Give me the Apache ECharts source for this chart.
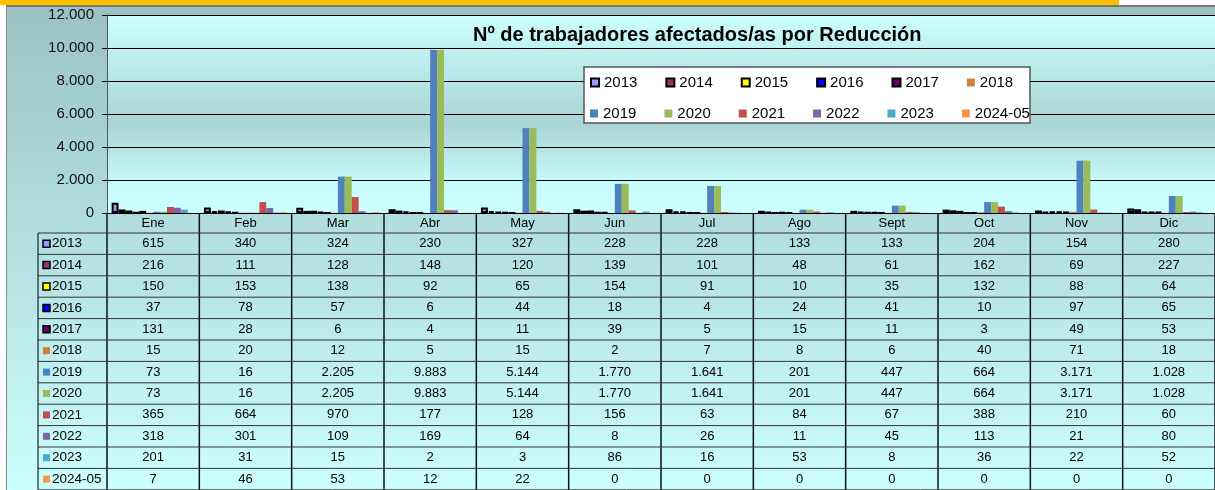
<!DOCTYPE html>
<html>
<head>
<meta charset="utf-8">
<script src="https://cdn.jsdelivr.net/npm/echarts@6/dist/echarts.min.js"></script>
<style>
  html, body { margin: 0; padding: 0; background: #fff; }
  #wrap { position: relative; width: 1215px; height: 490px; overflow: hidden; }
  #band { position: absolute; left: 0; top: 0; width: 1119px; height: 5px; background: #ffc000; }
  #panel { position: absolute; left: 6px; top: 5px; right: 0; bottom: 0;
           border-left: 1px solid #888; border-top: 2px solid #777;
           background: linear-gradient(#9bc2c2, #ccffff); }
  #chart { position: absolute; left: 0; top: 0; width: 1215px; height: 490px; }
</style>
</head>
<body>
<div id="wrap">
  <div id="band"></div>
  <div id="panel"></div>
  <div id="chart"></div>
</div>
<script>
const months = ["Ene", "Feb", "Mar", "Abr", "May", "Jun", "Jul", "Ago", "Sept", "Oct", "Nov", "Dic"];
const years = ["2013", "2014", "2015", "2016", "2017", "2018", "2019", "2020", "2021", "2022", "2023", "2024-05"];
const yTicks = [0, 2000, 4000, 6000, 8000, 10000, 12000];

const v2013 = [615, 340, 324, 230, 327, 228, 228, 133, 133, 204, 154, 280];
const v2014 = [216, 111, 128, 148, 120, 139, 101, 48, 61, 162, 69, 227];
const v2015 = [150, 153, 138, 92, 65, 154, 91, 10, 35, 132, 88, 64];
const v2016 = [37, 78, 57, 6, 44, 18, 4, 24, 41, 10, 97, 65];
const v2017 = [131, 28, 6, 4, 11, 39, 5, 15, 11, 3, 49, 53];
const v2018 = [15, 20, 12, 5, 15, 2, 7, 8, 6, 40, 71, 18];
const v2019 = [73, 16, 2205, 9883, 5144, 1770, 1641, 201, 447, 664, 3171, 1028];
const v2020 = [73, 16, 2205, 9883, 5144, 1770, 1641, 201, 447, 664, 3171, 1028];
const v2021 = [365, 664, 970, 177, 128, 156, 63, 84, 67, 388, 210, 60];
const v2022 = [318, 301, 109, 169, 64, 8, 26, 11, 45, 113, 21, 80];
const v2023 = [201, 31, 15, 2, 3, 86, 16, 53, 8, 36, 22, 52];
const v2024 = [7, 46, 53, 12, 22, 0, 0, 0, 0, 0, 0, 0];
const seriesValues = [v2013, v2014, v2015, v2016, v2017, v2018, v2019, v2020, v2021, v2022, v2023, v2024];

const colors = ["#9999ff", "#993366", "#ffff00", "#0000ff", "#660066", "#d4803c",
                "#4f81bd", "#9bbb59", "#c0504d", "#8064a2", "#4bacc6", "#f79646"];
const FONT = "Liberation Sans, Arial, sans-serif";

// formato español: 2.205
function fmt(v) {
  return String(v).replace(/\B(?=(\d{3})+(?!\d))/g, ".");
}

const myChart = echarts.init(document.getElementById("chart"));

const series = years.map((y, i) => ({
  name: y,
  type: "bar",
  barGap: "0%",
  barCategoryGap: "10%",
  data: seriesValues[i],
  itemStyle: i < 5
    ? { color: colors[i], borderColor: "#000", borderWidth: 2 }
    : { color: colors[i] },
  emphasis: { disabled: true },
}));

const legendBase = {
  orient: "horizontal",
  icon: "rect",
  itemWidth: 8,
  itemHeight: 8,
  itemGap: 28,
  padding: 0,
  z: 6,
  selectedMode: false,
  textStyle: { fontFamily: FONT, fontSize: 15, color: "#000" },
};

myChart.setOption({
  animation: false,
  backgroundColor: "transparent",
  textStyle: { fontFamily: FONT },
  title: {
    text: "Nº de trabajadores afectados/as por Reducción",
    left: 473,
    top: 25,
    padding: 0,
    textStyle: { fontFamily: FONT, fontSize: 20, fontWeight: "bold", color: "#000" },
  },
  legend: [
    Object.assign({}, legendBase, { left: 590, top: 75, data: years.slice(0, 6) }),
    Object.assign({}, legendBase, { left: 590, top: 106, data: years.slice(6) }),
  ],
  grid: {
    left: 107,
    right: 0,
    top: 15,
    bottom: 277,
    show: true,
    borderWidth: 0,
    backgroundColor: {
      type: "linear", x: 0, y: 0, x2: 0, y2: 1,
      colorStops: [
        { offset: 0, color: "#ccffff" },
        { offset: 0.55, color: "#a9d4d4" },
        { offset: 0.85, color: "#c8fbfb" },
        { offset: 1, color: "#ccffff" },
      ],
    },
  },
  xAxis: {
    type: "category",
    data: months,
    axisLine: { lineStyle: { color: "#000", width: 1 } },
    axisTick: { show: false },
    axisLabel: { show: false },
  },
  yAxis: {
    type: "value",
    min: yTicks[0],
    max: yTicks[yTicks.length - 1],
    interval: 2000,
    axisLine: { show: true, lineStyle: { color: "#555", width: 1 } },
    axisTick: { show: true, length: 5, lineStyle: { color: "#000" } },
    splitLine: { lineStyle: { color: "#000", width: 1 } },
    axisLabel: {
      formatter: (v) => fmt(v),
      fontFamily: FONT,
      fontSize: 15,
      color: "#111",
      margin: 13,
    },
  },
  series: series,
});

// tabla de datos debajo del gráfico
function buildTable() {
  const centers = months.map((m) => myChart.convertToPixel({ xAxisIndex: 0 }, m));
  const bw = centers[1] - centers[0];
  const axisY = myChart.convertToPixel({ yAxisIndex: 0 }, 0);
  const headTop = axisY;
  const rowTop = axisY + 20;
  const rowH = 21.4;
  const tableLeft = 38;
  const tableRight = centers[centers.length - 1] + bw / 2;
  const tableBottom = rowTop + rowH * years.length;
  const els = [];

  // caja de la leyenda
  els.push({
    type: "rect", z: 5,
    shape: { x: 584, y: 67, width: 446, height: 56 },
    style: { fill: "#fff", stroke: "#555", lineWidth: 1.5 },
  });

  months.forEach((m, i) => {
    els.push({
      type: "text", z: 10,
      style: { text: m, x: centers[i], y: headTop + 10, align: "center", verticalAlign: "middle",
               font: "13px " + FONT, fill: "#000" },
    });
  });

  for (let i = 0; i <= months.length; i++) {
    const x = centers[0] - bw / 2 + i * bw;
    els.push({
      type: "line", z: 10,
      shape: { x1: x, y1: headTop, x2: x, y2: tableBottom },
      style: { stroke: "#111", lineWidth: 1.5 },
    });
  }
  els.push({
    type: "line", z: 10,
    shape: { x1: tableLeft, y1: rowTop, x2: tableLeft, y2: tableBottom },
    style: { stroke: "#222", lineWidth: 1.2 },
  });
  for (let r = 0; r <= years.length; r++) {
    const y = rowTop + r * rowH;
    els.push({
      type: "line", z: 10,
      shape: { x1: tableLeft, y1: y, x2: tableRight, y2: y },
      style: { stroke: "#333", lineWidth: 1 },
    });
  }

  years.forEach((y, r) => {
    const cy = rowTop + rowH * (r + 0.5);
    els.push({
      type: "rect", z: 10,
      shape: { x: 43, y: cy - 3.5, width: 7, height: 7 },
      style: r < 5
        ? { fill: colors[r], stroke: "#000", lineWidth: 1.5 }
        : { fill: colors[r] },
    });
    els.push({
      type: "text", z: 10,
      style: { text: y, x: 52, y: cy, align: "left", verticalAlign: "middle",
               font: "13.5px " + FONT, fill: "#000" },
    });
    seriesValues[r].forEach((v, i) => {
      els.push({
        type: "text", z: 10,
        style: { text: fmt(v), x: centers[i], y: cy, align: "center", verticalAlign: "middle",
                 font: "13px " + FONT, fill: "#000" },
      });
    });
  });

  myChart.setOption({ graphic: { elements: els } });
}

buildTable();
</script>
</body>
</html>
